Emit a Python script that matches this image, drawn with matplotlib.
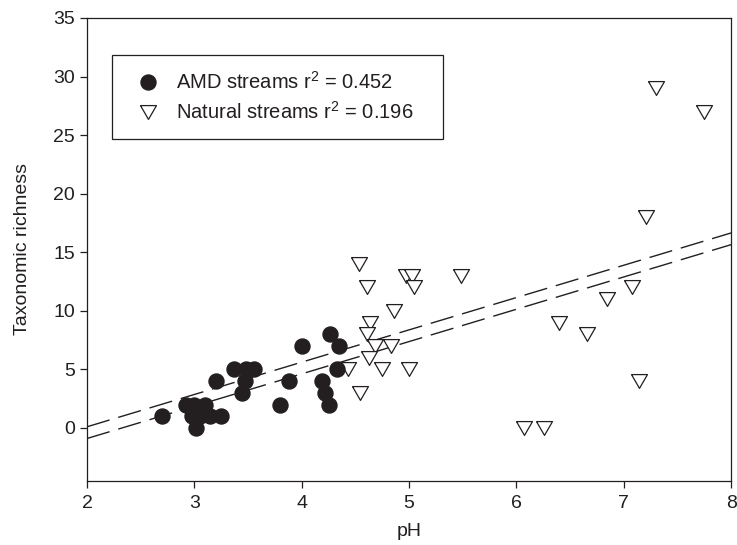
import numpy as np
import matplotlib
matplotlib.use("Agg")
import matplotlib.pyplot as plt
from matplotlib.lines import Line2D

# -------------------------------------------------  データ
amd_ph = [2.70, 2.92, 2.98, 3.00, 3.02, 3.05, 3.10, 3.15, 3.25, 3.20, 3.37, 3.44,
          3.47, 3.48, 3.56, 3.80, 3.88, 4.00, 4.19, 4.22, 4.25, 4.26, 4.33, 4.35]
amd_rich = [1, 2, 1, 2, 0, 1, 2, 1, 1, 4, 5, 3,
            4, 5, 5, 2, 4, 7, 4, 3, 2, 8, 5, 7]

nat_ph = [4.53, 4.97, 5.03, 5.05, 5.48, 4.61, 4.86, 4.64, 4.61, 4.68, 4.83, 4.63,
          4.43, 4.75, 5.00, 4.54, 7.30, 7.75, 7.21, 7.08, 6.84, 6.40, 6.66, 7.14,
          6.07, 6.26]
nat_rich = [14, 13, 13, 12, 13, 12, 10, 9, 8, 7, 7, 6,
            5, 5, 5, 3, 29, 27, 18, 12, 11, 9, 8, 4,
            0, 0]

# 回帰線 (両端の値)
line_x = [2, 8]
upper_y = [0.1, 16.65]
lower_y = [-0.9, 15.65]

amd_label = "AMD streams r$^2$ = 0.452"
nat_label = "Natural streams r$^2$ = 0.196"

# -------------------------------------------------  描画
plt.rcParams["font.family"] = ["Liberation Sans", "DejaVu Sans"]
plt.rcParams["mathtext.fontset"] = "custom"
plt.rcParams["mathtext.rm"] = "Liberation Sans"
plt.rcParams["mathtext.it"] = "Liberation Sans"
plt.rcParams["mathtext.default"] = "regular"
ink = "#231f20"

fig = plt.figure(figsize=(7.37, 5.45), dpi=100)
ax = fig.add_axes([0.118, 0.118, 0.874, 0.849])

tri = [(-1, 0.866), (1, 0.866), (0, -0.866), (-1, 0.866)]

ax.plot(line_x, upper_y, color=ink, lw=1.0, dashes=(17, 6.5), zorder=1)
ax.plot(line_x, lower_y, color=ink, lw=1.0, dashes=(17, 6.5), zorder=1)

ax.plot(amd_ph, amd_rich, ls="none", marker="o", ms=10.8,
        mfc=ink, mec=ink, zorder=3)
ax.plot(nat_ph, nat_rich, ls="none", marker=tri, ms=11.5,
        mfc="white", mec=ink, mew=0.9, zorder=2)

ax.set_xlim(2, 8)
ax.set_ylim(-4.5, 35)
ax.set_xticks(range(2, 9))
ax.set_yticks(range(0, 36, 5))
ax.tick_params(direction="out", length=5, width=0.9, labelsize=14,
               colors=ink, top=False, right=False)
ax.tick_params(axis="x", pad=5)
for sp in ax.spines.values():
    sp.set_linewidth(0.9)
    sp.set_color(ink)

ax.set_xlabel("pH", fontsize=14, color=ink, labelpad=8)
ax.set_ylabel("Taxonomic richness", fontsize=14, color=ink, labelpad=16)

# ---- 凡例
h_amd = Line2D([], [], ls="none", marker="o", ms=10.8, mfc=ink, mec=ink)
h_nat = Line2D([], [], ls="none", marker=tri, ms=11.5,
               mfc="white", mec=ink, mew=0.9)
leg = fig.legend([h_amd, h_nat], [amd_label, nat_label],
                 loc="upper left", bbox_to_anchor=(0.152, 0.750, 0.449, 0.149),
                 mode="expand", fontsize=14.5, frameon=True, fancybox=False,
                 framealpha=1, edgecolor=ink, borderaxespad=0, borderpad=0.8,
                 labelspacing=0.4, handlelength=2.0, handletextpad=0.4)
leg.get_frame().set_linewidth(0.9)
for t in leg.get_texts():
    t.set_color(ink)

fig.savefig("out.png", dpi=100)
